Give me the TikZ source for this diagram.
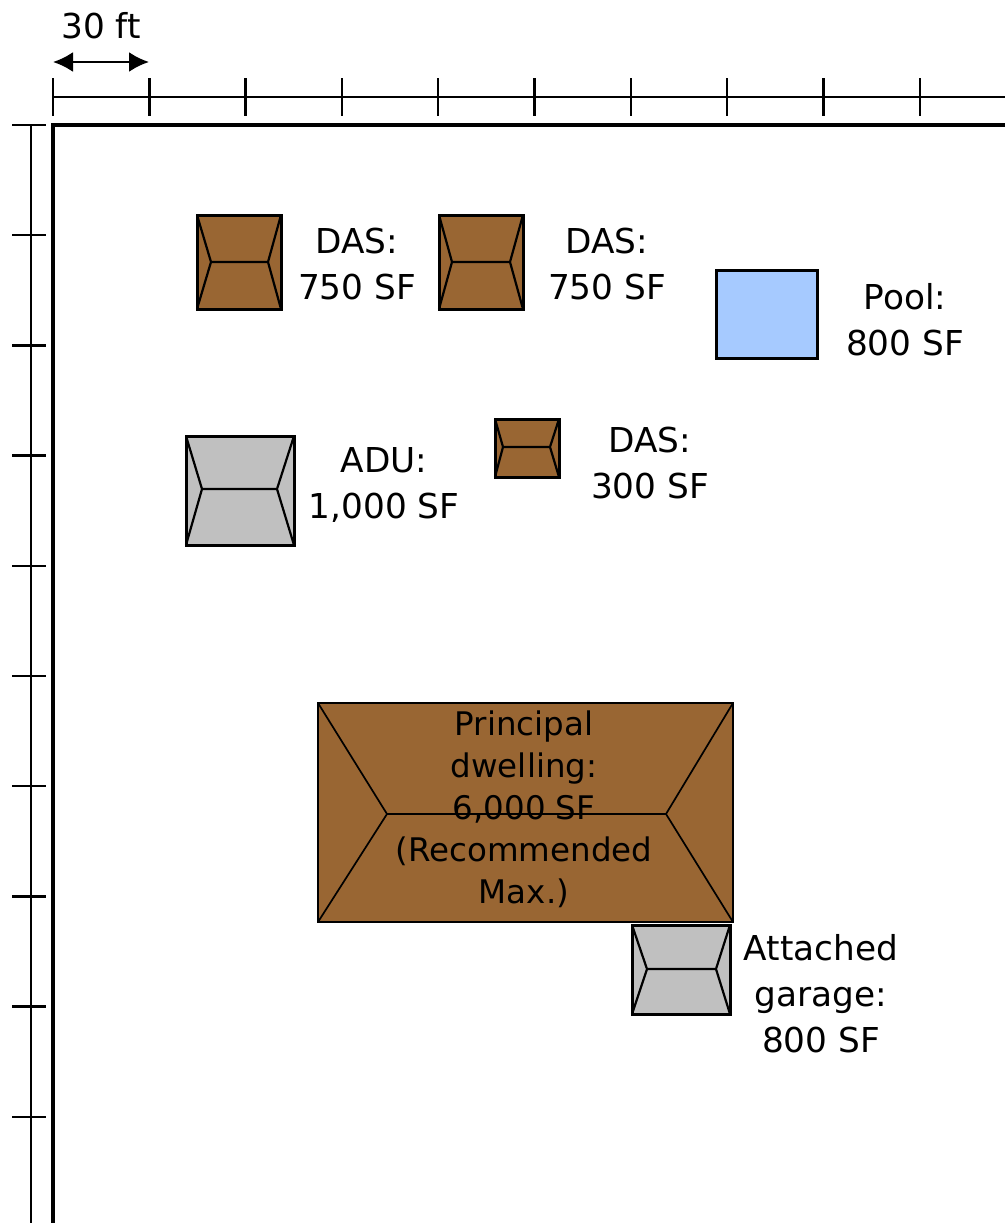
\documentclass[tikz,border=0pt]{standalone}
\usepackage{fontspec}
\setmainfont{DejaVu Sans}
\usetikzlibrary{arrows.meta}
\definecolor{roofbrown}{RGB}{153,102,51}
\definecolor{roofgray}{RGB}{192,192,192}
\definecolor{poolblue}{RGB}{166,202,255}

\begin{document}
\begin{tikzpicture}[x=1pt, y=-1pt,
	rule/.style={line width=2.4pt},
	lot/.style={line width=3.6pt},
	house/.style={draw, line width=3pt},
	ridge/.style={line width=2.2pt},
	area/.style={align=center, inner sep=0pt, font=\fontsize{34.3}{46}\selectfont}]
	\useasboundingbox (0,0) rectangle (1005,1223);

	% scale bar
	\coordinate (sl) at (53,62);
	\coordinate (sr) at (149,62);
	\draw[rule, {Latex[length=20pt,width=20pt]}-{Latex[length=20pt,width=20pt]}] (sl) -- (sr);
	\node[area] (span) at (101,26) {30 ft};

	% draw top ruler
	\draw[rule] (53,97) -- (1005,97);
	\foreach \x in {0,...,9}
	\draw[rule] (53+\x*96.3,78) -- (53+\x*96.3,116);

	% draw left ruler
	\draw[rule] (31,125) -- (31,1223);
	\foreach \y in {0,...,9}
	\draw[rule] (12,125+\y*110.2) -- (46,125+\y*110.2);

	% lot lines
	\draw[lot] (1005,125) -- (53,125) -- (53,1223);

	% draw hip roofs
	\foreach \xa/\ya/\xb/\yb/\ym/\xl/\xr/\col in {
		197/215/281/309/262/211/268/roofbrown,
		439/215/523/309/262/452/510/roofbrown,
		186/436/294/545/489/202/277/roofgray,
		495/419/559/477/447/503/550/roofbrown}
	{
		\fill[\col] (\xa,\ya) rectangle (\xb,\yb);
		\draw[ridge] (\xa,\ya) -- (\xl,\ym) -- (\xa,\yb) (\xl,\ym) -- (\xr,\ym)
			(\xb,\ya) -- (\xr,\ym) -- (\xb,\yb);
		\draw[house] (\xa,\ya) rectangle (\xb,\yb);
	}

	% principal dwelling
	\fill[roofbrown] (318,703) rectangle (733,922);
	\draw[line width=1.7pt] (318,703) -- (387,814) -- (318,922) (387,814) -- (666,814)
		(733,703) -- (666,814) -- (733,922);
	\draw[house, line width=2.8pt] (318,703) rectangle (733,922);

	% attached garage
	\fill[roofgray] (632,925) rectangle (730,1014);
	\draw[ridge] (632,925) -- (647,969) -- (632,1014) (647,969) -- (716,969)
		(730,925) -- (716,969) -- (730,1014);
	\draw[house] (632,925) rectangle (730,1014);

	% pool
	\draw[house, fill=poolblue] (716,270) rectangle (817,358);

	% draw labels
	\node[area] (das1) at (357,264) {DAS:\\750 SF};
	\node[area] (das2) at (607,264) {DAS:\\750 SF};
	\node[area] (pool) at (905,320) {Pool:\\800 SF};
	\node[area] (adu) at (384,485) {ADU:\\1,000 SF};
	\node[area] (das3) at (650,463) {DAS:\\300 SF};
	\node[area, font=\fontsize{32.5}{42}\selectfont] (main) at (524,809)
		{Principal\\dwelling:\\6,000 SF\\(Recommended\\Max.)};
	\node[area] (garage) at (821,994) {Attached\\garage:\\800 SF};
\end{tikzpicture}
\end{document}
